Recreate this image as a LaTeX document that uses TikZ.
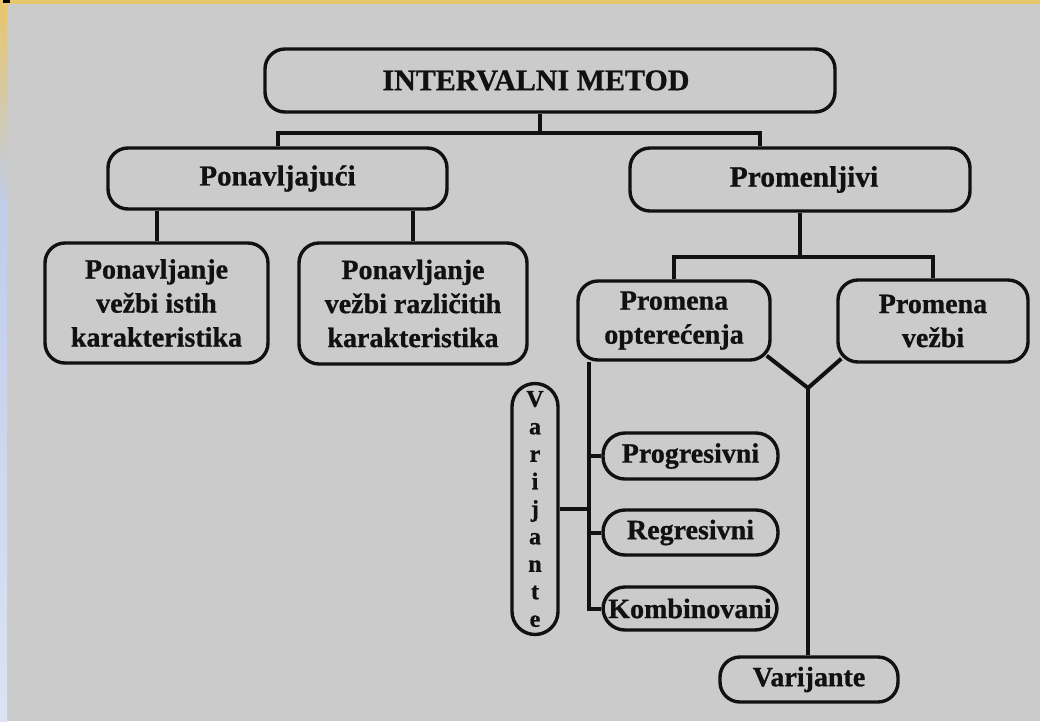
\documentclass[tikz,border=0pt]{standalone}
\usepackage{fontspec}
\setmainfont{Liberation Serif}[BoldFeatures={FakeBold=0.8}]
\usetikzlibrary{calc}
\definecolor{bggray}{HTML}{CBCBCB}
\definecolor{stripeyellow}{HTML}{E8C66A}
\definecolor{stripeblue}{HTML}{BFCDEA}
\definecolor{stripelight}{HTML}{DCE3F3}
\definecolor{ink}{HTML}{111111}
\tikzset{
  box/.style={draw=ink, line width=3.4pt, rounded corners=20pt, inner sep=0pt,
    align=center, font=\bfseries\fontsize{28}{34}\selectfont, text=ink},
  pill/.style={box, rounded corners=22pt},
  conn/.style={draw=ink, line width=4pt},
}
\begin{document}
\begin{tikzpicture}[x=1pt,y=-1pt]
\useasboundingbox (0,0) rectangle (1040,721);
\fill[bggray] (0,0) rectangle (1040,721);
\shade[top color=stripeyellow, bottom color=stripeblue] (0,0) rectangle (7,210);
\shade[top color=stripeblue, bottom color=stripelight] (0,210) rectangle (7,721);
\fill[stripeyellow] (0,0) rectangle (1040,3.5);
\fill[black] (3,0) rectangle (10,3.3);

% nodes
\node[box, minimum width=570pt, minimum height=63pt, font=\bfseries\fontsize{30}{34}\selectfont] (top) at (550,80.5) {INTERVALNI METOD\hspace*{28pt}};
\node[box, minimum width=339pt, minimum height=61pt, font=\bfseries\fontsize{29}{34}\selectfont] (pon) at (277.5,178.5) {Ponavljajući};
\node[box, minimum width=340pt, minimum height=63pt, font=\bfseries\fontsize{29.5}{34}\selectfont] (prom) at (800,179.5) {\hspace*{8pt}Promenljivi};
\node[box, minimum width=223pt, minimum height=120pt] (c1) at (156.5,303) {Ponavljanje\\vežbi istih\\karakteristika};
\node[box, minimum width=228pt, minimum height=121pt] (c2) at (413,303.5) {Ponavljanje\\vežbi različitih\\karakteristika};
\node[box, minimum width=192pt, minimum height=79pt] (po) at (674,320.5) {Promena\\opterećenja};
\node[box, minimum width=190pt, minimum height=82pt] (pv) at (933,321) {Promena\\vežbi};
\node[pill, minimum width=175pt, minimum height=46pt] (prog) at (690.5,456) {Progresivni};
\node[pill, minimum width=175pt, minimum height=45pt] (reg) at (690.5,532.5) {Regresivni};
\node[pill, minimum width=174pt, minimum height=43pt] (komb) at (690,608.5) {Kombinovani};
\node[box, rounded corners=23pt, minimum width=46pt, minimum height=251pt, font=\bfseries\fontsize{24}{27.5}\selectfont] (varv) at (535,509) {V\\a\\r\\i\\j\\a\\n\\t\\e};
\node[box, minimum width=178pt, minimum height=45pt] (varb) at (809,679.5) {Varijante};

% connectors
\coordinate (tj) at (540,133);
\coordinate (tl) at (278,133);
\coordinate (tr) at (760,133);
\draw[conn] (top.south -| tj) -- (tj);
\draw[conn] (pon.north -| tl) -- (tl) -- (tr) -- (prom.north -| tr);

\draw[conn] (pon.south -| c1.north) -- (c1.north);
\draw[conn] (pon.south -| c2.north) -- (c2.north);

\coordinate (mj) at (800,257);
\draw[conn] (prom.south) -- (mj);
\draw[conn] (po.north) |- (mj) -| (pv.north);

\coordinate (vtip) at (808,388);
\draw[conn, line join=miter] ($(po.south east)+(-5,-6)$) -- (vtip) -- ($(pv.south west)+(5,-5)$);
\draw[conn] (vtip) -- (varb.north -| vtip);

\coordinate (vx) at (589,0);
\draw[conn] (po.south -| vx) -- (komb.west -| vx) -- (komb.west);
\draw[conn] (prog.west -| vx) -- (prog.west);
\draw[conn] (reg.west -| vx) -- (reg.west);
\draw[conn] (varv.east) -- (varv.east -| vx);
\end{tikzpicture}
\end{document}
